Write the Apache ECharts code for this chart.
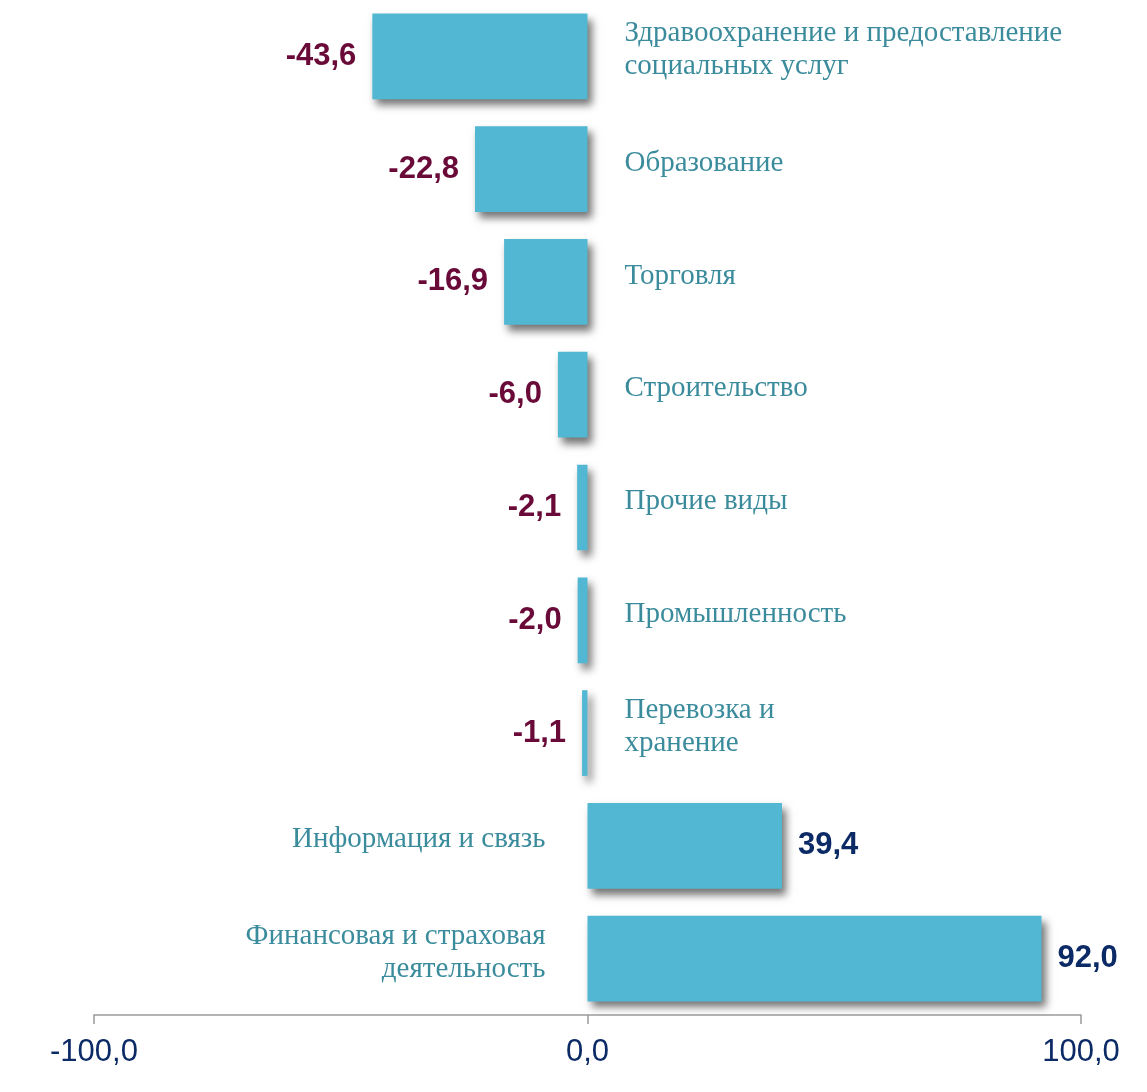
<!DOCTYPE html>
<html>
<head>
<meta charset="utf-8">
<script src="https://cdn.jsdelivr.net/npm/echarts@6/dist/echarts.min.js"></script>
<style>
  html, body { margin: 0; padding: 0; background: #fff; }
  #chart { width: 1147px; height: 1092px; }
</style>
</head>
<body>
<div id="chart"></div>
<script>
// отрасли (сверху вниз)
var categories = [
  'Здравоохранение и предоставление\nсоциальных услуг',
  'Образование',
  'Торговля',
  'Строительство',
  'Прочие виды',
  'Промышленность',
  'Перевозка и\nхранение',
  'Информация и связь',
  'Финансовая и страховая\nдеятельность'
];
var values = [-43.6, -22.8, -16.9, -6.0, -2.1, -2.0, -1.1, 39.4, 92.0];
var axisTicks = [-100, 0, 100];

function fmt(v) {
  return v.toFixed(1).replace('.', ',');
}

var chart = echarts.init(document.getElementById('chart'));

// подписи значений: слева у отрицательных, справа у положительных
var valueData = values.map(function (v) {
  return {
    value: v,
    label: {
      position: v < 0 ? 'left' : 'right',
      color: v < 0 ? '#6a0a38' : '#0c2a66'
    }
  };
});
// названия отраслей: по другую сторону от нуля
var nameData = values.map(function (v) {
  return {
    value: v,
    label: {
      position: v < 0 ? 'right' : 'left',
      distance: v < 0 ? 37 : 42
    }
  };
});

chart.setOption({
  animation: false,
  grid: { left: 94, right: 66, top: -3, bottom: 77, containLabel: false },
  xAxis: {
    type: 'value',
    min: axisTicks[0],
    max: axisTicks[axisTicks.length - 1],
    interval: 100,
    splitLine: { show: false },
    axisLine: { show: true, lineStyle: { color: '#9a9a9a', width: 1.5 } },
    axisTick: { show: true, length: 9, lineStyle: { color: '#9a9a9a', width: 1.5 } },
    axisLabel: {
      margin: 22,
      fontFamily: 'Liberation Sans, Arial, sans-serif',
      fontSize: 31,
      color: '#0c2a66',
      formatter: function (v) { return fmt(v); }
    }
  },
  yAxis: {
    type: 'category',
    inverse: true,
    data: categories,
    axisLine: { show: false },
    axisTick: { show: false },
    axisLabel: { show: false },
    splitLine: { show: false }
  },
  series: [
    {
      type: 'bar',
      data: valueData,
      barCategoryGap: '24%',
      itemStyle: {
        color: '#52b7d2',
        shadowColor: 'rgba(0,0,0,0.55)',
        shadowBlur: 8,
        shadowOffsetX: 4,
        shadowOffsetY: 6
      },
      label: {
        show: true,
        distance: 16,
        fontFamily: 'Liberation Sans, Arial, sans-serif',
        fontWeight: 'bold',
        fontSize: 31,
        formatter: function (p) { return fmt(p.value); }
      },
      z: 2
    },
    {
      type: 'bar',
      data: nameData,
      barGap: '-100%',
      barCategoryGap: '24%',
      itemStyle: { color: 'rgba(0,0,0,0)' },
      label: {
        show: true,
        offset: [0, -6],
        fontFamily: 'Liberation Serif, Times New Roman, serif',
        fontSize: 29,
        lineHeight: 33,
        color: '#3a8b9c',
        formatter: function (p) { return categories[p.dataIndex]; }
      },
      z: 3
    }
  ]
});
</script>
</body>
</html>
